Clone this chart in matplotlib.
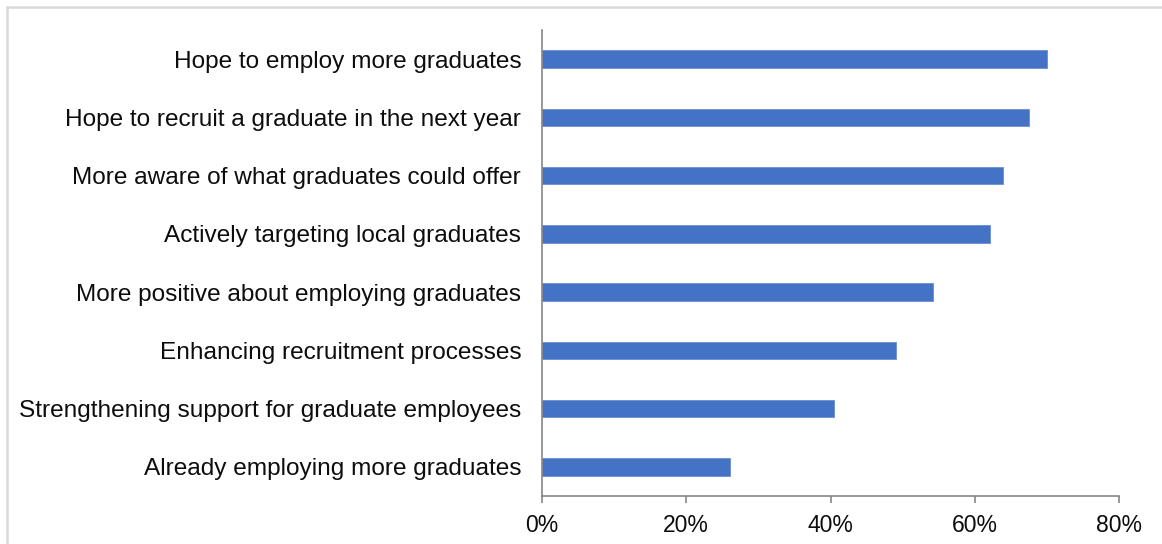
import matplotlib.pyplot as plt
from matplotlib.patches import Rectangle
from matplotlib.ticker import PercentFormatter

plt.rcParams["font.family"] = ["Liberation Sans", "DejaVu Sans"]

categories = [
    "Hope to employ more graduates",
    "Hope to recruit a graduate in the next year",
    "More aware of what graduates could offer",
    "Actively targeting local graduates",
    "More positive about employing graduates",
    "Enhancing recruitment processes",
    "Strengthening support for graduate employees",
    "Already employing more graduates",
]
shares = [70.0, 67.5, 63.9, 62.1, 54.2, 49.1, 40.5, 26.0]

fig = plt.figure(figsize=(11.62, 5.44), dpi=100)

# light grey frame around the chart area
fig.patches.append(
    Rectangle((7 / 1162, -0.1), 1.2, 1.1 - 7 / 544, transform=fig.transFigure,
              fill=False, edgecolor="#d9d9d9", linewidth=1.8)
)

ax = fig.add_axes([542 / 1162, 48 / 544, 577 / 1162, 466 / 544])
y = list(range(len(categories)))
ax.barh(y, shares, height=0.3, color="#4472C4", edgecolor="#6a8fd0", linewidth=0.6)

ax.set_yticks(y)
ax.set_yticklabels(categories, fontsize=17.6, color="#0d0d0d")
ax.set_ylim(len(categories) - 0.5, -0.5)

ax.set_xlim(0, 80)
ax.set_xticks([0, 20, 40, 60, 80])
ax.xaxis.set_major_formatter(PercentFormatter(decimals=0))
ax.tick_params(axis="x", labelsize=16.5, labelcolor="#0d0d0d", length=5,
               width=1.2, color="#868686", pad=8)
ax.tick_params(axis="y", length=0, pad=15)

for side in ("top", "right"):
    ax.spines[side].set_visible(False)
for side in ("left", "bottom"):
    ax.spines[side].set_color("#868686")
    ax.spines[side].set_linewidth(1.2)

fig.savefig("out.png", dpi=100)
